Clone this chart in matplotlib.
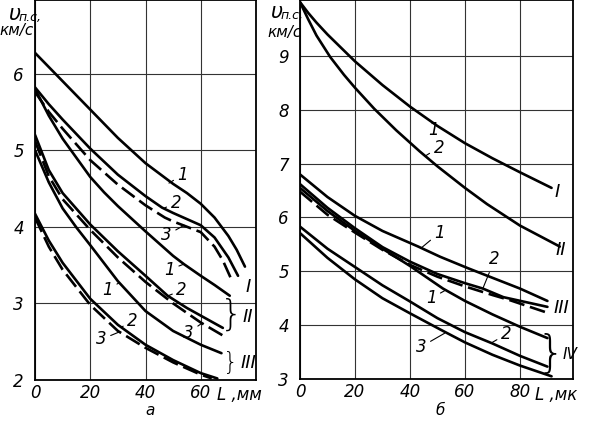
import matplotlib
matplotlib.use('Agg')
import matplotlib.pyplot as plt

# ---- panel a (left): L in mm ----
a_I1_x = [0, 10, 20, 30, 40, 50, 55, 60, 65, 70, 73, 76]
a_I1_y = [6.27, 5.9, 5.53, 5.16, 4.83, 4.56, 4.44, 4.3, 4.12, 3.88, 3.7, 3.48]
a_I2_x = [0, 5, 10, 20, 30, 40, 46, 50, 55, 60, 65, 70, 73.5]
a_I2_y = [5.82, 5.6, 5.4, 5.02, 4.68, 4.4, 4.25, 4.18, 4.1, 4.02, 3.86, 3.6, 3.36]
a_I3_x = [0, 5, 10, 20, 30, 40, 47, 50, 55, 60, 65, 68, 71.5]
a_I3_y = [5.76, 5.5, 5.28, 4.87, 4.55, 4.28, 4.12, 4.07, 4.0, 3.93, 3.74, 3.56, 3.28]
a_II1_x = [0, 5, 10, 20, 25, 30, 40, 50, 54, 60, 65, 70.5]
a_II1_y = [5.8, 5.45, 5.15, 4.65, 4.45, 4.27, 3.94, 3.62, 3.51, 3.36, 3.24, 3.1]
a_II2_x = [0, 5, 10, 20, 30, 40, 48, 55, 60, 68]
a_II2_y = [5.2, 4.74, 4.44, 4.03, 3.68, 3.36, 3.1, 2.94, 2.84, 2.68]
a_II3_x = [0, 5, 10, 20, 30, 40, 50, 60, 69]
a_II3_y = [5.12, 4.66, 4.36, 3.96, 3.6, 3.28, 3.0, 2.75, 2.56]
a_III1_x = [0, 5, 10, 15, 20, 30, 40, 50, 60, 67.5]
a_III1_y = [5.0, 4.58, 4.24, 3.99, 3.76, 3.29, 2.9, 2.64, 2.46, 2.35]
a_III2_x = [0, 5, 10, 20, 30, 40, 50, 60, 66]
a_III2_y = [4.17, 3.82, 3.53, 3.06, 2.72, 2.46, 2.26, 2.09, 2.02]
a_III3_x = [0, 5, 10, 20, 30, 40, 50, 60, 64]
a_III3_y = [4.12, 3.74, 3.44, 2.98, 2.64, 2.42, 2.23, 2.07, 2.02]

# ---- panel b (right): L in mk ----
b_I_x = [0, 3, 6, 10, 16, 20, 30, 40, 50, 60, 70, 80, 91.5]
b_I_y = [10.0, 9.8, 9.62, 9.4, 9.1, 8.9, 8.46, 8.06, 7.7, 7.38, 7.1, 6.84, 6.55]
b_II_x = [0, 3, 6, 11, 16, 20, 27, 35, 43.5, 50, 60, 68, 80, 94.5]
b_II_y = [10.0, 9.68, 9.38, 8.98, 8.65, 8.41, 8.02, 7.62, 7.23, 6.95, 6.55, 6.25, 5.85, 5.46]
b_III1_x = [0, 10, 20, 30, 43, 51, 61, 70, 80, 90]
b_III1_y = [6.8, 6.38, 6.03, 5.75, 5.46, 5.27, 5.06, 4.88, 4.68, 4.45]
b_III2_x = [0, 10, 20, 30, 40, 50, 60, 66.5, 74, 82, 90]
b_III2_y = [6.62, 6.18, 5.8, 5.45, 5.18, 4.95, 4.78, 4.68, 4.52, 4.43, 4.34]
b_III3_x = [0, 10, 20, 30, 40, 50, 60, 70, 76, 90]
b_III3_y = [6.48, 6.05, 5.72, 5.4, 5.12, 4.9, 4.72, 4.56, 4.47, 4.23]
b_IV1_x = [0, 10, 20, 30, 40, 52, 60, 70, 80, 90]
b_IV1_y = [6.55, 6.12, 5.75, 5.42, 5.1, 4.68, 4.45, 4.2, 3.97, 3.76]
b_IV2_x = [0, 10, 20, 30, 40, 50, 60, 70, 80, 90]
b_IV2_y = [5.83, 5.42, 5.08, 4.74, 4.44, 4.13, 3.87, 3.66, 3.43, 3.23]
b_IV3_x = [0, 10, 20, 30, 40, 51, 60, 70, 80, 91.5]
b_IV3_y = [5.71, 5.25, 4.85, 4.5, 4.22, 3.92, 3.68, 3.45, 3.25, 3.05]

a_xticks = [0, 20, 40, 60]
a_yticks = [2, 3, 4, 5, 6]
b_xticks = [0, 20, 40, 60, 80]
b_yticks = [3, 4, 5, 6, 7, 8, 9]

FONT = dict(family='DejaVu Sans', style='italic')
LW = 1.9
DASH = (0, (6, 2.2))

fig = plt.figure(figsize=(5.9, 4.21), dpi=100)
axa = fig.add_axes([35 / 590, 41 / 421, 221 / 590, 380 / 421])
axb = fig.add_axes([300 / 590, 42 / 421, 273 / 590, 379 / 421])


def style(ax, xlim, ylim, xt, yt):
    ax.set_xlim(*xlim)
    ax.set_ylim(*ylim)
    ax.set_xticks(xt)
    ax.set_yticks(yt)
    ax.set_xticklabels([str(v) for v in xt], fontsize=12, **FONT)
    ax.set_yticklabels([str(v) for v in yt], fontsize=12, **FONT)
    ax.tick_params(axis='x', length=0, pad=3)
    ax.tick_params(axis='y', length=0, pad=8)
    ax.grid(True, color='#333333', lw=0.8)
    ax.set_axisbelow(True)
    for s in ax.spines.values():
        s.set_linewidth(1.3)


style(axa, (0, 80), (2, 6.96), a_xticks, a_yticks)
style(axb, (0, 99.3), (3, 10.04), b_xticks, b_yticks)

for xs, ys, ls in [(a_I1_x, a_I1_y, '-'), (a_I2_x, a_I2_y, '-'), (a_I3_x, a_I3_y, DASH),
                   (a_II1_x, a_II1_y, '-'), (a_II2_x, a_II2_y, '-'), (a_II3_x, a_II3_y, DASH),
                   (a_III1_x, a_III1_y, '-'), (a_III2_x, a_III2_y, '-'), (a_III3_x, a_III3_y, DASH)]:
    axa.plot(xs, ys, color='black', lw=LW, ls=ls, solid_capstyle='round')

for xs, ys, ls in [(b_I_x, b_I_y, '-'), (b_II_x, b_II_y, '-'),
                   (b_III1_x, b_III1_y, '-'), (b_III2_x, b_III2_y, '-'), (b_III3_x, b_III3_y, DASH),
                   (b_IV1_x, b_IV1_y, '-'), (b_IV2_x, b_IV2_y, '-'), (b_IV3_x, b_IV3_y, '-')]:
    axb.plot(xs, ys, color='black', lw=LW, ls=ls, solid_capstyle='round')


def lab(ax, txt, xy, xytext, size=12):
    ax.annotate(txt, xy=xy, xytext=xytext, ha='center', va='center', fontsize=size,
                arrowprops=dict(arrowstyle='-', lw=0.8, color='black', shrinkA=1, shrinkB=0),
                **FONT)


# curve numbers, panel a
lab(axa, '1', (48.5, 4.57), (53.5, 4.68))
lab(axa, '2', (46.5, 4.24), (51.0, 4.31))
lab(axa, '3', (54.0, 4.02), (47.6, 3.89))
lab(axa, '1', (53.7, 3.51), (48.7, 3.44))
lab(axa, '2', (48.2, 3.10), (53.1, 3.17))
lab(axa, '3', (60.4, 2.74), (55.6, 2.62))
lab(axa, '1', (30.5, 3.27), (26.3, 3.18))
lab(axa, '2', (31.3, 2.69), (35.3, 2.77))
lab(axa, '3', (30.7, 2.63), (24.0, 2.53))
axa.text(77.0, 3.21, 'I', fontsize=13, ha='center', va='center', **FONT)
axa.text(71.2, 2.85, '}', fontsize=26, ha='center', va='center', family='DejaVu Sans', fontweight='light')
axa.text(77.0, 2.82, 'II', fontsize=13, ha='center', va='center', **FONT)
axa.text(70.8, 2.22, '}', fontsize=17, ha='center', va='center', family='DejaVu Sans', fontweight='light')
axa.text(77.2, 2.22, 'III', fontsize=13, ha='center', va='center', **FONT)

# curve numbers, panel b
axb.text(48.7, 7.62, '1', fontsize=12, ha='center', va='center', **FONT)
lab(axb, '2', (45.5, 7.14), (50.5, 7.30))
lab(axb, '1', (44.0, 5.43), (50.8, 5.72))
lab(axb, '2', (66.5, 4.68), (70.8, 5.22))
lab(axb, '1', (52.6, 4.64), (47.7, 4.50))
lab(axb, '2', (69.6, 3.67), (75.0, 3.83))
lab(axb, '3', (52.6, 3.85), (44.1, 3.60))
axb.text(93.5, 6.48, 'I', fontsize=13, ha='center', va='center', **FONT)
axb.text(95.0, 5.40, 'II', fontsize=13, ha='center', va='center', **FONT)
axb.text(95.0, 4.31, 'III', fontsize=13, ha='center', va='center', **FONT)
axb.text(91.0, 3.45, '}', fontsize=32, ha='center', va='center', family='DejaVu Sans', fontweight='light')
axb.text(98.4, 3.45, 'IV', fontsize=11, ha='center', va='center', **FONT)

# axis units and captions
axa.text(66.0, -0.04, 'L ,мм', transform=axa.get_xaxis_transform(), fontsize=12,
         ha='left', va='center', **FONT)
axb.text(85.5, -0.042, 'L ,мк', transform=axb.get_xaxis_transform(), fontsize=12,
         ha='left', va='center', **FONT)
fig.text(8 / 590, 1 - 14 / 421, 'υ', fontsize=15, ha='left', va='center', **FONT)
fig.text(19 / 590, 1 - 17 / 421, 'п.с,', fontsize=9, ha='left', va='center', **FONT)
fig.text(17 / 590, 1 - 30 / 421, 'км/с', fontsize=11, ha='center', va='center', **FONT)
fig.text(270 / 590, 1 - 12 / 421, 'υ', fontsize=15, ha='left', va='center', **FONT)
fig.text(281 / 590, 1 - 15 / 421, 'п.с,', fontsize=9, ha='left', va='center', **FONT)
fig.text(285 / 590, 1 - 32 / 421, 'км/с', fontsize=11, ha='center', va='center', **FONT)
fig.text(150 / 590, 1 - 403 / 421, 'а', fontsize=11, ha='center', va='top', **FONT)
fig.text(440 / 590, 1 - 403 / 421, 'б', fontsize=11, ha='center', va='top', **FONT)

fig.savefig('out.png', dpi=100)
